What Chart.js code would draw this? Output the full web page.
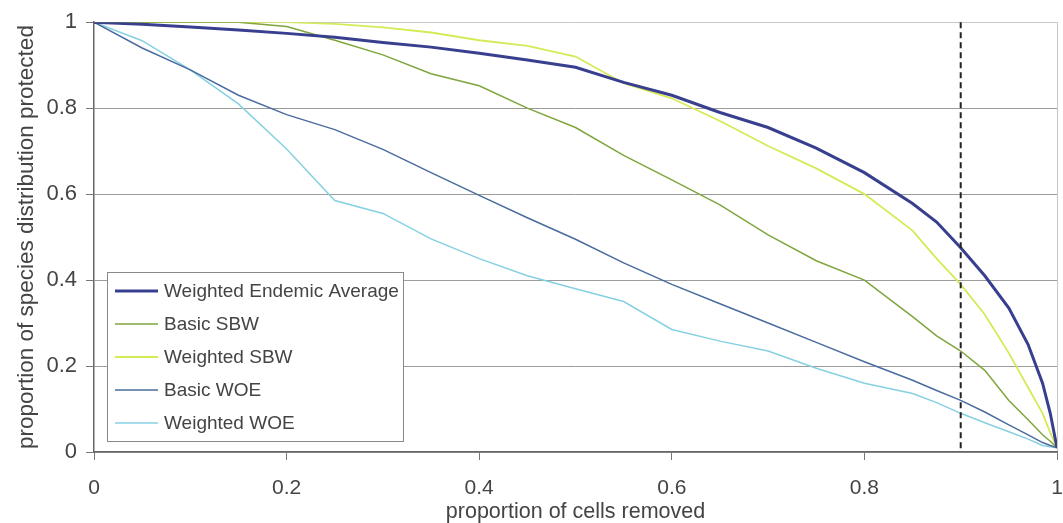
<!DOCTYPE html>
<html>
<head>
<meta charset="utf-8">
<script src="https://cdn.jsdelivr.net/npm/chart.js@4/dist/chart.umd.min.js"></script>
<style>
  html, body { margin: 0; padding: 0; background: #ffffff; }
  #wrap { width: 1063px; height: 523px; }
</style>
</head>
<body>
<div id="wrap"><canvas id="c" width="1063" height="523"></canvas></div>
<script>
// ---- data ----
const xValues = [0, 0.05, 0.1, 0.15, 0.2, 0.25, 0.3, 0.35, 0.4, 0.45, 0.5, 0.55, 0.6, 0.65, 0.7, 0.75, 0.8, 0.85, 0.875, 0.9, 0.925, 0.95, 0.97, 0.985, 0.993, 1];

const seriesNames = ["Weighted Endemic Average", "Basic SBW", "Weighted SBW", "Basic WOE", "Weighted WOE"];

const weightedEndemic = [1.0, 0.995, 0.989, 0.982, 0.974, 0.965, 0.953, 0.942, 0.928, 0.912, 0.895, 0.86, 0.83, 0.79, 0.755, 0.707, 0.65, 0.578, 0.535, 0.475, 0.41, 0.335, 0.25, 0.16, 0.09, 0.01];
const basicSBW        = [1.0, 1.0, 1.0, 1.0, 0.99, 0.958, 0.924, 0.88, 0.852, 0.80, 0.755, 0.69, 0.633, 0.575, 0.505, 0.445, 0.40, 0.315, 0.27, 0.235, 0.19, 0.12, 0.075, 0.04, 0.025, 0.01];
const weightedSBW     = [1.0, 1.0, 1.0, 1.0, 1.0, 0.996, 0.988, 0.976, 0.958, 0.945, 0.92, 0.858, 0.823, 0.77, 0.712, 0.66, 0.60, 0.515, 0.45, 0.39, 0.32, 0.23, 0.15, 0.09, 0.045, 0.01];
const basicWOE        = [1.0, 0.94, 0.889, 0.83, 0.785, 0.75, 0.704, 0.65, 0.597, 0.545, 0.495, 0.44, 0.39, 0.345, 0.30, 0.255, 0.21, 0.167, 0.143, 0.12, 0.093, 0.063, 0.04, 0.022, 0.015, 0.01];
const weightedWOE     = [1.0, 0.957, 0.889, 0.81, 0.705, 0.585, 0.555, 0.496, 0.45, 0.41, 0.38, 0.35, 0.285, 0.258, 0.235, 0.195, 0.16, 0.136, 0.115, 0.09, 0.068, 0.047, 0.03, 0.015, 0.012, 0.01];

const xTickValues = [0, 0.2, 0.4, 0.6, 0.8, 1];
const yTickValues = [0, 0.2, 0.4, 0.6, 0.8, 1];
const cutoffX = 0.9;

const xTitle = "proportion of cells removed";
const yTitle = "proportion of species distribution protected";

// ---- styles ----
const seriesValues = [weightedEndemic, basicSBW, weightedSBW, basicWOE, weightedWOE];
const seriesColors = ["#383f8e", "#7fa53c", "#d6ea55", "#4a6c9e", "#86d0e2"];
const seriesWidths = [3, 1.5, 1.8, 1.5, 1.5];
const FONT = "'Liberation Sans', Arial, sans-serif";
const TEXT = "#444444";

const datasets = seriesNames.map((name, i) => ({
  label: name,
  data: xValues.map((x, j) => ({ x: x, y: seriesValues[i][j] })),
  borderColor: seriesColors[i],
  backgroundColor: seriesColors[i],
  borderWidth: seriesWidths[i],
  pointRadius: 0,
  tension: 0,
  fill: false
}));

const overlay = {
  id: 'overlay',
  afterDatasetsDraw(chart) {
    const { ctx } = chart;
    const xs = chart.scales.x, ys = chart.scales.y;
    const px = xs.getPixelForValue(cutoffX);
    ctx.save();
    ctx.strokeStyle = "#222222";
    ctx.lineWidth = 2;
    ctx.setLineDash([6, 4]);
    ctx.beginPath();
    ctx.moveTo(px, ys.getPixelForValue(1));
    ctx.lineTo(px, ys.getPixelForValue(0));
    ctx.stroke();
    ctx.restore();
  },
  afterDraw(chart) {
    const { ctx, chartArea } = chart;
    const left = chartArea.left + 13;
    const bottom = chartArea.bottom - 11;
    const w = 296, h = 169;
    const top = bottom - h;
    ctx.save();
    ctx.fillStyle = "#ffffff";
    ctx.fillRect(left, top, w, h);
    ctx.strokeStyle = "#8a8a8a";
    ctx.lineWidth = 1;
    ctx.strokeRect(left + 0.5, top + 0.5, w, h);
    ctx.font = "19px " + FONT;
    ctx.textBaseline = "middle";
    ctx.textAlign = "left";
    chart.data.datasets.forEach((ds, i) => {
      const y = top + 19 + i * 33;
      ctx.strokeStyle = ds.borderColor;
      ctx.lineWidth = ds.borderWidth;
      ctx.beginPath();
      ctx.moveTo(left + 8, y);
      ctx.lineTo(left + 51, y);
      ctx.stroke();
      ctx.fillStyle = TEXT;
      ctx.fillText(ds.label, left + 57, y + 1);
    });
    ctx.restore();
  }
};

const fmt = v => String(+Number(v).toFixed(1));

new Chart(document.getElementById('c'), {
  type: 'line',
  data: { datasets: datasets },
  options: {
    responsive: false,
    animation: false,
    devicePixelRatio: 1,
    layout: { padding: { top: 19, right: 6, left: 0, bottom: 0 } },
    plugins: { legend: { display: false }, tooltip: { enabled: false } },
    scales: {
      x: {
        type: 'linear',
        min: 0, max: 1,
        afterBuildTicks: s => { s.ticks = xTickValues.map(v => ({ value: v })); },
        afterFit: s => { s.height = 71; s.paddingRight = 0; s.paddingLeft = 0; },
        ticks: { callback: fmt, color: TEXT, font: { family: FONT, size: 21 }, padding: 16, maxRotation: 0 },
        grid: {
          color: c => (c.tick && c.tick.value === 1) ? "#c8c8c8" : "rgba(0,0,0,0)",
          tickColor: "#777777",
          tickLength: 8,
          lineWidth: 1
        },
        border: { color: "#666666", width: 1.5 },
        title: { display: true, text: xTitle, color: TEXT, font: { family: FONT, size: 21.5, lineHeight: 1 }, padding: { top: 0, bottom: 0 } }
      },
      y: {
        type: 'linear',
        min: 0, max: 1,
        afterBuildTicks: s => { s.ticks = yTickValues.map(v => ({ value: v })); },
        afterFit: s => { s.width = 94; },
        ticks: { callback: fmt, color: TEXT, font: { family: FONT, size: 22 }, padding: 9 },
        grid: {
          color: c => (c.tick && c.tick.value === 1) ? "#c8c8c8" : "#9c9c9c",
          tickColor: "#777777",
          tickLength: 8,
          lineWidth: 1
        },
        border: { color: "#666666", width: 1.5 },
        title: { display: true, text: yTitle, color: TEXT, font: { family: FONT, size: 22.5, lineHeight: 1 }, padding: { top: 16, bottom: 0 } }
      }
    }
  },
  plugins: [overlay]
});
</script>
</body>
</html>
